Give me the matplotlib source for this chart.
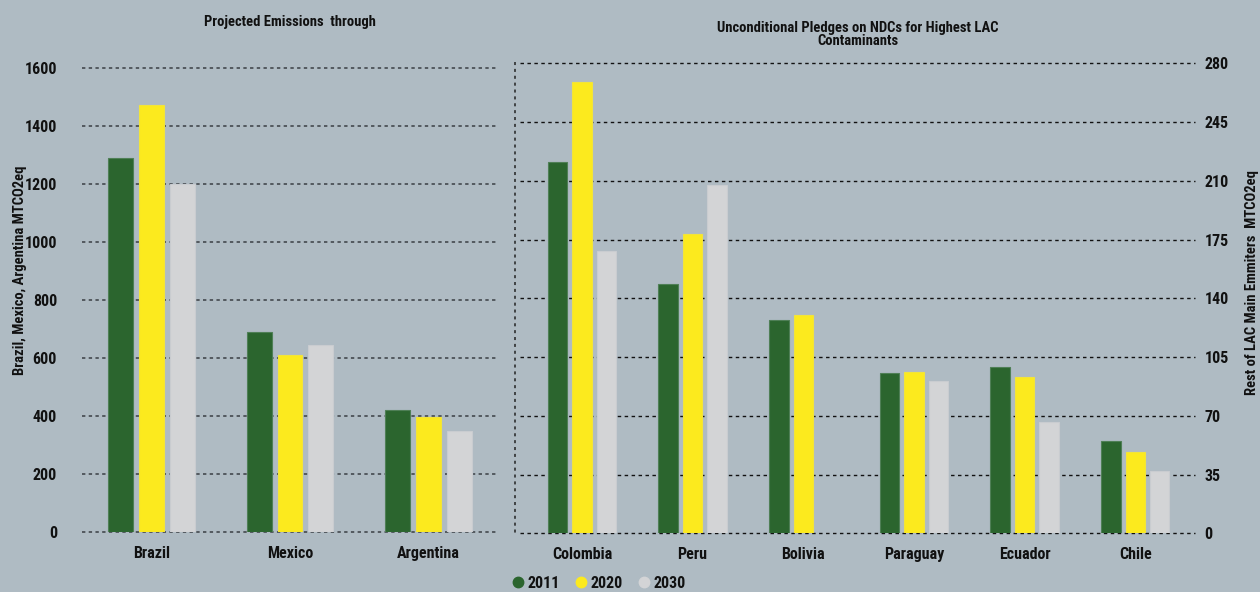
import matplotlib
matplotlib.use('Agg')
import matplotlib.pyplot as plt
import numpy as np
from matplotlib.lines import Line2D
from matplotlib import font_manager

# Big emitters (left axis) and the rest of the main LAC emitters (right axis)
big_countries = ['Brazil', 'Mexico', 'Argentina']
big_2011 = [1288, 688, 420]
big_2020 = [1472, 609, 395]
big_2030 = [1200, 644, 348]

rest_countries = ['Colombia', 'Peru', 'Bolivia', 'Paraguay', 'Ecuador', 'Chile']
rest_2011 = [221, 148.6, 127, 95.5, 99, 55]
rest_2020 = [269, 178.3, 130, 96, 93, 48.4]
rest_2030 = [168, 207.6, 0, 91, 66.6, 37]

years = ['2011', '2020', '2030']
colors = ['#2b652e', '#fcea1e', '#d3d4d6']
edges = ['#4f7f56', '#f2e43a', '#c9ccd0']
bg = '#afbbc3'

# pick a narrow face if one is around
names = {f.name for f in font_manager.fontManager.ttflist}
narrow = [n for n in ['Liberation Sans Narrow', 'DejaVu Sans Condensed', 'Roboto Condensed',
                      'Open Sans Condensed'] if n in names]
plt.rcParams['font.family'] = narrow + ['DejaVu Sans']
plt.rcParams['font.stretch'] = 'condensed'
plt.rcParams['font.weight'] = 'bold'
plt.rcParams['axes.titleweight'] = 'bold'
plt.rcParams['axes.labelweight'] = 'bold'
plt.rcParams['font.size'] = 11
txt = '#111111'

fig = plt.figure(figsize=(12.6, 5.92), dpi=100)
fig.patch.set_facecolor(bg)

W, H = 1260, 592
ax1 = fig.add_axes([82 / W, (H - 532) / H, 416 / W, 464 / H])
ax2 = fig.add_axes([520 / W, (H - 533.3) / H, 675 / W, 470 / H])


def draw_group(ax, cats, series, width, step):
    x = np.arange(len(cats))
    for i, vals in enumerate(series):
        ax.bar(x + (i - 1) * step, vals, width=width, color=colors[i],
               edgecolor=edges[i], linewidth=0.8, zorder=3)
    ax.set_xticks(x)
    ax.set_xticklabels(cats)
    ax.set_facecolor(bg)
    for s in ax.spines.values():
        s.set_visible(False)
    ax.set_axisbelow(True)


draw_group(ax1, big_countries, [big_2011, big_2020, big_2030], 0.18, 0.223)
ax1.set_xlim(-0.5, 2.5)
ax1.set_ylim(0, 1600)
ax1.set_yticks(np.arange(0, 1601, 200))
ax1.grid(axis='y', color='#3a3f44', linestyle=(0, (2.2, 2.2)), linewidth=1.1)
ax1.tick_params(axis='both', length=0, colors=txt, labelsize=11.5)
ax1.tick_params(axis='x', pad=10)
ax1.tick_params(axis='y', pad=18)
ax1.set_ylabel('Brazil, Mexico, Argentina MTCO2eq', color=txt, fontsize=10.5)
ax1.yaxis.set_label_coords(-0.132, 0.565)
ax1.set_title('Projected Emissions  through', color=txt, fontsize=10.5, pad=30)

draw_group(ax2, rest_countries, [rest_2011, rest_2020, rest_2030], 0.176, 0.221)
ax2.set_xlim(-0.56, 5.54)
ax2.set_ylim(0, 280)
ax2.set_yticks(np.arange(0, 281, 35))
ax2.yaxis.tick_right()
ax2.yaxis.set_label_position('right')
ax2.grid(axis='y', color='#111111', linestyle=(0, (2.5, 2.5)), linewidth=1.0)
ax2.tick_params(axis='both', length=0, colors=txt, labelsize=11.5)
ax2.tick_params(axis='x', pad=10)
ax2.tick_params(axis='y', pad=7)
ax2.set_ylabel('Rest of LAC Main Emmiters  MTCO2eq', color=txt, fontsize=10.5,
               rotation=90)
ax2.yaxis.set_label_coords(1.074, 0.533)
ax2.set_title('Unconditional Pledges on NDCs for Highest LAC\nContaminants',
              color=txt, fontsize=10.5, pad=13, linespacing=0.95)

for ax in (ax1, ax2):
    for line in ax.get_ygridlines():
        line.set_clip_on(False)

# dotted divider between the two panels
fig.add_artist(Line2D([515 / W, 515 / W], [(H - 62) / H, (H - 535) / H],
                      transform=fig.transFigure, color='#222222',
                      linestyle=(0, (2, 2.5)), linewidth=1.1))

handles = [Line2D([], [], marker='o', linestyle='none', markersize=7.5,
                  markerfacecolor=c, markeredgecolor=c) for c in colors]
fig.legend(handles, years, loc='center', bbox_to_anchor=(598 / W, (H - 583) / H),
           ncol=3, frameon=False, handletextpad=0.1, columnspacing=0.8,
           handlelength=1.0, labelcolor=txt, fontsize=11.5)

fig.savefig('out.png', dpi=100, facecolor=bg)
